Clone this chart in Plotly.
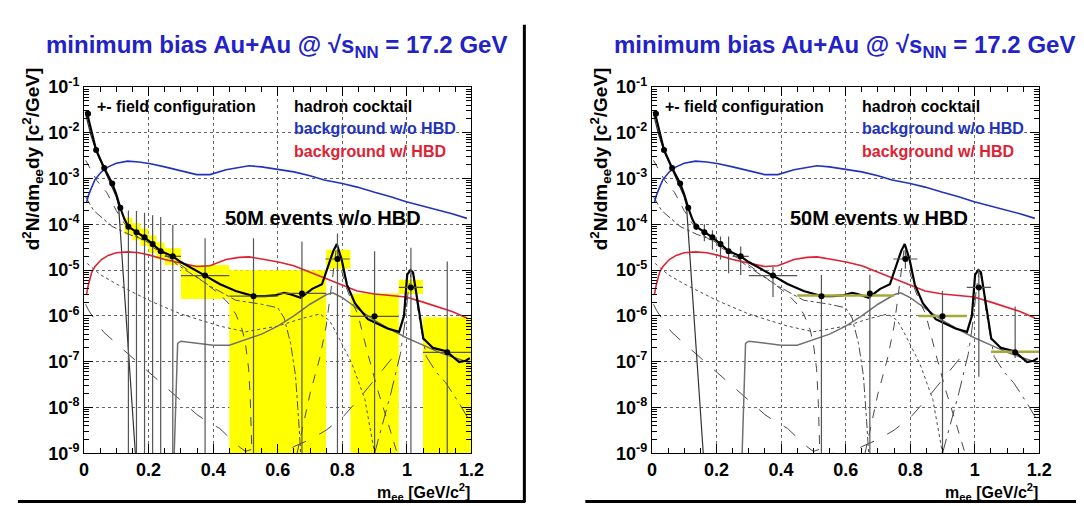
import numpy as np
import plotly.graph_objects as go

W, H = 1084, 506

# ---------------- data ----------------
# data points (bin centres) and their values
pt_x = [0.0125, 0.0375, 0.0625, 0.0875, 0.1125, 0.1375, 0.1625, 0.1875, 0.2125, 0.2375,
        0.275, 0.375, 0.525, 0.675, 0.785, 0.9, 1.0125, 1.125]
pt_y = [2.6e-2, 4.2e-3, 1.7e-3, 7.8e-4, 2.3e-4, 8.9e-5, 6.7e-5, 5.2e-5, 3.7e-5, 2.6e-5,
        2.0e-5, 7.6e-6, 2.7e-6, 3.1e-6, 1.75e-5, 9.8e-7, 4.2e-6, 1.6e-7]
bin_lo = [0.0, 0.025, 0.05, 0.075, 0.1, 0.125, 0.15, 0.175, 0.2, 0.225,
          0.25, 0.30, 0.45, 0.60, 0.75, 0.825, 0.975, 1.05]
bin_hi = [0.025, 0.05, 0.075, 0.1, 0.125, 0.15, 0.175, 0.2, 0.225, 0.25,
          0.30, 0.45, 0.60, 0.75, 0.825, 0.975, 1.05, 1.2]

# statistical error limits, 50M events w/o HBD (left)
left_hi = [2.6e-2, 4.2e-3, 1.7e-3, 7.8e-4, 2.3e-4, 2.0e-4, 1.95e-4, 1.78e-4, 1.58e-4, 1.45e-4,
           9.8e-5, 5.0e-5, 5.0e-5, 4.2e-5, 6.3e-5, 2.6e-5, 3.1e-5, 1.55e-5]
left_lo = [2.6e-2, 4.2e-3, 1.7e-3, 7.8e-4, 2.3e-4, 1e-10, 1e-10, 1e-10, 1e-10, 1e-10,
           1e-10, 1e-10, 1e-10, 1e-10, 1e-10, 1e-10, 1e-10, 1e-10]
left_xbar = [False] * 10 + [True] * 8

# statistical error limits, 50M events w HBD (right)
right_hi = [2.6e-2, 4.2e-3, 1.7e-3, 7.8e-4, 2.3e-4, 1.05e-4, 1.0e-4, 7.4e-5, 5.4e-5, 5.4e-5,
            3.3e-5, 1.17e-5, 7.8e-6, 7.9e-6, 2.8e-5, 3.5e-6, 1.07e-5, 1.6e-6]
right_lo = [2.6e-2, 4.2e-3, 1.7e-3, 7.8e-4, 2.3e-4, 7.5e-5, 4.3e-5, 2.8e-5, 1.7e-5, 8.5e-6,
            7.8e-6, 2.6e-6, 1e-10, 1e-10, 1.07e-5, 1e-10, 4.7e-8, 1.2e-7]
right_xbar = [False] * 10 + [True, True, False, False, True, False, True, False]

# systematic boxes (yellow), left panel: x0, x1, ylow, yhigh
sysL_x0 = [0.125, 0.15, 0.175, 0.2, 0.225, 0.25, 0.30, 0.45, 0.60, 0.75, 0.825, 0.975, 1.05]
sysL_x1 = [0.15, 0.175, 0.2, 0.225, 0.25, 0.30, 0.45, 0.60, 0.75, 0.825, 0.975, 1.05, 1.2]
sysL_lo = [6.0e-5, 4.5e-5, 3.4e-5, 2.4e-5, 1.7e-5, 1.3e-5, 2.35e-6, 1e-10, 1e-10, 1.07e-5, 1e-10, 3.0e-6, 1e-10]
sysL_hi = [1.4e-4, 1.05e-4, 8.0e-5, 5.7e-5, 4.0e-5, 3.0e-5, 1.3e-5, 1.0e-5, 1.0e-5, 2.8e-5, 3.1e-6, 6.2e-6, 9.3e-7]

# systematic bars (thin), right panel
sysR_x0 = [0.45, 0.60, 0.825, 1.05]
sysR_x1 = [0.60, 0.75, 0.975, 1.2]
sysR_y = [2.8e-6, 2.8e-6, 1.0e-6, 1.65e-7]

# hadron cocktail sum
tot_x = [0.005, 0.0125, 0.0375, 0.0625, 0.0875, 0.1, 0.1125, 0.125, 0.1375, 0.1625, 0.1875, 0.2125,
         0.2375, 0.275, 0.3, 0.375, 0.42, 0.47, 0.525, 0.56, 0.59, 0.62, 0.637, 0.671, 0.707, 0.737,
         0.762, 0.772, 0.783, 0.798, 0.814, 0.839, 0.879, 0.94, 0.976, 0.991, 1.001, 1.011, 1.019,
         1.026, 1.04, 1.051, 1.081, 1.122, 1.162, 1.182, 1.195]
tot_y = [2.9e-2, 2.2e-2, 4.2e-3, 1.7e-3, 7.8e-4, 4.5e-4, 2.3e-4, 1.3e-4, 8.9e-5, 6.7e-5, 5.2e-5, 3.7e-5,
         2.6e-5, 2.0e-5, 1.5e-5, 7.6e-6, 5.0e-6, 3.5e-6, 2.7e-6, 2.7e-6, 2.8e-6, 3.2e-6, 3.0e-6, 2.5e-6,
         3.9e-6, 4.9e-6, 1.5e-5, 2.6e-5, 3.7e-5, 1.7e-5, 4.9e-6, 1.9e-6, 8.5e-7, 5.3e-7, 4.5e-7, 1.0e-6,
         8.0e-6, 1.0e-5, 9.0e-6, 4.2e-6, 1.0e-6, 3.2e-7, 2.0e-7, 1.7e-7, 9.8e-8, 1.05e-7, 1.2e-7]

# cocktail components
pi0_x = [0.005, 0.02, 0.0375, 0.0625, 0.0875, 0.1, 0.107, 0.11, 0.12, 0.13, 0.14, 0.15, 0.16, 0.165]
pi0_y = [2.6e-2, 9.5e-3, 4.0e-3, 1.6e-3, 6.8e-4, 4.0e-4, 2.6e-4, 1.3e-4, 1.3e-5, 1.0e-6, 1.0e-7, 1.0e-8, 8e-10, 1e-10]

eta_x = [0.005, 0.02, 0.04, 0.07, 0.1, 0.125, 0.15, 0.2, 0.24, 0.3, 0.34, 0.38, 0.42, 0.45, 0.47,
         0.49, 0.5, 0.51, 0.515, 0.52, 0.525]
eta_y = [2.5e-3, 1.6e-3, 9e-4, 5e-4, 2.0e-4, 1.05e-4, 6.5e-5, 3.6e-5, 2.4e-5, 1.3e-5, 8e-6, 5e-6,
         3e-6, 1.8e-6, 1.1e-6, 5e-7, 2.5e-7, 7e-8, 1.5e-8, 1e-9, 1e-10]

omd_x = [0.005, 0.03, 0.087, 0.14, 0.188, 0.24, 0.29, 0.39, 0.47, 0.55, 0.6, 0.62, 0.64, 0.655, 0.665, 0.68]
omd_y = [4e-4, 2e-4, 9e-5, 6e-5, 4.5e-5, 2.5e-5, 1.3e-5, 4.5e-6, 2.2e-6, 1.8e-6, 1.5e-6, 9e-7, 2.5e-7,
         5e-8, 5e-9, 1e-10]

etap_x = [0.01, 0.05, 0.1, 0.2, 0.3, 0.42, 0.5, 0.6, 0.68, 0.73, 0.76, 0.78, 0.83, 0.87, 0.9, 0.91]
etap_y = [1.4e-5, 8e-6, 5e-6, 2.2e-6, 1.1e-6, 6e-7, 4.5e-7, 6e-7, 9e-7, 1.1e-6, 8e-7, 4.5e-7, 9e-8,
          1.5e-8, 1e-9, 1e-10]

rho_x = [0.275, 0.28, 0.29, 0.30, 0.35, 0.40, 0.45, 0.50, 0.55, 0.60, 0.65, 0.70, 0.75, 0.77, 0.80,
         0.85, 0.90, 0.95, 1.00, 1.05, 1.10, 1.15, 1.195]
rho_y = [1e-10, 1e-9, 2.5e-7, 2.8e-7, 2.5e-7, 2.3e-7, 2.3e-7, 3.0e-7, 4.0e-7, 6.0e-7, 1.0e-6, 1.8e-6,
         2.9e-6, 3.2e-6, 2.5e-6, 1.4e-6, 8.0e-7, 5.0e-7, 3.3e-7, 2.3e-7, 1.6e-7, 1.2e-7, 9.5e-8]

ldash_x = [0.005, 0.015, 0.03, 0.06, 0.1, 0.14, 0.2, 0.26, 0.3, 0.35, 0.38, 0.42, 0.45, 0.48, 0.5,
           0.53, 0.56, 0.6, 0.65, 0.7, 0.75, 0.8, 0.85, 0.9, 0.95, 0.98]
ldash_y = [1.8e-6, 1.3e-6, 9e-7, 4.5e-7, 2.5e-7, 1.4e-7, 6e-8, 2.5e-8, 1.4e-8, 7e-9, 5e-9, 3.5e-9,
           2.2e-9, 1.4e-9, 1.1e-9, 1.3e-9, 1.0e-9, 9e-10, 1.4e-9, 2e-9, 3.2e-9, 6e-9, 1.5e-8, 4e-8,
           1.1e-7, 2.2e-7]

omee_x = [0.66, 0.70, 0.73, 0.75, 0.76, 0.77, 0.782, 0.795, 0.808, 0.83, 0.848, 0.879, 0.909, 0.94, 0.97]
omee_y = [1e-9, 2e-8, 1.2e-7, 6e-7, 2e-6, 8e-6, 3.2e-5, 1.2e-5, 5e-6, 2e-6, 1.1e-6, 1.5e-7, 2.5e-8,
          5e-9, 1e-9]

phi_x = [0.90, 0.95, 0.98, 0.995, 1.005, 1.012, 1.019, 1.027, 1.035, 1.05, 1.06, 1.09, 1.12, 1.16, 1.195]
phi_y = [1e-9, 2e-8, 1.5e-7, 8e-7, 4e-6, 8e-6, 9e-6, 4e-6, 1.2e-6, 3e-7, 1.3e-7, 6e-8, 3.5e-8, 1.3e-8, 5e-9]

# combinatorial backgrounds
bg_x = [0.008, 0.014, 0.024, 0.034, 0.054, 0.075, 0.1, 0.135, 0.17, 0.206, 0.25, 0.288, 0.32, 0.349,
        0.39, 0.42, 0.44, 0.48, 0.511, 0.55, 0.602, 0.65, 0.7, 0.744, 0.8, 0.846, 0.9, 0.95, 0.998,
        1.05, 1.09, 1.14, 1.186]
bg_noHBD = [3.0e-4, 4.3e-4, 6.5e-4, 9.5e-4, 1.4e-3, 1.8e-3, 2.15e-3, 2.4e-3, 2.3e-3, 2.1e-3, 1.8e-3,
            1.55e-3, 1.35e-3, 1.22e-3, 1.22e-3, 1.4e-3, 1.55e-3, 1.75e-3, 1.9e-3, 1.8e-3, 1.6e-3,
            1.4e-3, 1.15e-3, 9.3e-4, 7.8e-4, 6.5e-4, 5.0e-4, 4.0e-4, 3.1e-4, 2.5e-4, 2.1e-4, 1.7e-4, 1.35e-4]
bg_HBD = [3.0e-6, 5.0e-6, 9.0e-6, 1.2e-5, 1.7e-5, 2.1e-5, 2.4e-5, 2.5e-5, 2.4e-5, 2.1e-5, 1.7e-5,
          1.5e-5, 1.3e-5, 1.2e-5, 1.25e-5, 1.5e-5, 1.7e-5, 1.9e-5, 1.95e-5, 1.75e-5, 1.5e-5, 1.25e-5,
          9.0e-6, 6.6e-6, 4.6e-6, 3.5e-6, 3.0e-6, 2.8e-6, 2.6e-6, 2.0e-6, 1.65e-6, 1.25e-6, 9.0e-7]

x_ticks = [0, 0.2, 0.4, 0.6, 0.8, 1.0, 1.2]
x_ticktext = ["0", "0.2", "0.4", "0.6", "0.8", "1", "1.2"]
y_exps = [-9, -8, -7, -6, -5, -4, -3, -2, -1]

panel_titles = ["50M events w/o HBD", "50M events w HBD"]
green_x = [(0.369, 1.109), (0.361, 1.046)]
green_y = (5.0e-5, 3.6e-4)

# ---------------- figure ----------------
FONT = "Liberation Sans"
GRAY = "#4a4a4a"
fig = go.Figure()

PX0, PY0 = 72.2, 70.0           # left panel top-left (px)
PW, PH = 394.0, 383.0
RX0 = 649.7


def dom_x(x0):
    return [x0 / W, (x0 + PW) / W]


def dom_y():
    return [1 - (PY0 + PH) / H, 1 - PY0 / H]


def add_line(xs, ys, ax, color=GRAY, width=1.0, dash="solid"):
    fig.add_trace(go.Scatter(x=xs, y=ys, mode="lines", xaxis=ax[0], yaxis=ax[1],
                             line=dict(color=color, width=width, dash=dash),
                             showlegend=False, hoverinfo="skip"))


panels = [("x", "y"), ("x2", "y2")]
for ip, ax in enumerate(panels):
    # systematic errors
    if ip == 0:
        bx, by = [], []
        for a, b, lo, hi in zip(sysL_x0, sysL_x1, sysL_lo, sysL_hi):
            bx += [a, b, b, a, a, None]
            by += [lo, lo, hi, hi, lo, None]
        fig.add_trace(go.Scatter(x=bx, y=by, mode="lines", fill="toself", fillcolor="#ffff00",
                                 line=dict(width=0, color="#ffff00"), xaxis=ax[0], yaxis=ax[1],
                                 showlegend=False, hoverinfo="skip"))
    # cocktail components
    add_line(ldash_x, ldash_y, ax, width=1.0, dash="longdash")
    add_line(etap_x, etap_y, ax, width=1.0, dash="dot")
    add_line(omd_x, omd_y, ax, width=1.0, dash="dashdot")
    add_line(eta_x, eta_y, ax, width=1.0, dash="dash")
    add_line(omee_x, omee_y, ax, width=1.0, dash="dash")
    add_line(phi_x, phi_y, ax, width=1.0, dash="longdashdot")
    add_line(rho_x, rho_y, ax, color="#707070", width=1.5)
    add_line(pi0_x, pi0_y, ax, color="#333333", width=1.2)
    # backgrounds
    add_line(bg_x, bg_noHBD, ax, color="#2233bb", width=1.6)
    add_line(bg_x, bg_HBD, ax, color="#dd2233", width=1.6)
    # cocktail sum
    add_line(tot_x, tot_y, ax, color="black", width=2.2)

    hi = left_hi if ip == 0 else right_hi
    lo = left_lo if ip == 0 else right_lo
    xb = left_xbar if ip == 0 else right_xbar
    if ip == 1:
        sx, sy = [], []
        for a, b, v in zip(sysR_x0, sysR_x1, sysR_y):
            sx += [a, b, None]
            sy += [v, v, None]
        add_line(sx, sy, ax, color="#a8a838", width=2.5)
    ex = [(b - a) / 2 if f else 0 for a, b, f in zip(bin_lo, bin_hi, xb)]
    fig.add_trace(go.Scatter(
        x=pt_x, y=pt_y, mode="markers", xaxis=ax[0], yaxis=ax[1],
        marker=dict(color="black", size=6),
        error_y=dict(type="data", symmetric=False,
                     array=[h - v for h, v in zip(hi, pt_y)],
                     arrayminus=[v - l for l, v in zip(lo, pt_y)],
                     color="#555555", thickness=1.2, width=0),
        error_x=dict(type="data", array=ex, color="#555555", thickness=1.2, width=0),
        showlegend=False, hoverinfo="skip"))

minor_y = [k * 10.0 ** e for e in range(-9, -1) for k in range(2, 10)]
minor_x = [i * 0.05 for i in range(25) if i % 4 != 0]

axis_font = dict(family=FONT, size=18, color="black", weight="bold")
for ip, (xa, ya) in enumerate([("xaxis", "yaxis"), ("xaxis2", "yaxis2")]):
    x0 = PX0 if ip == 0 else RX0
    yname = "y" if ip == 0 else "y2"
    xname = "x" if ip == 0 else "x2"
    fig.layout[xa] = dict(
        domain=dom_x(x0), range=[0, 1.2], anchor=yname,
        tickmode="array", tickvals=x_ticks, ticktext=x_ticktext,
        ticks="inside", ticklen=9, tickcolor="black", tickwidth=1,
        showline=True, linecolor="black", linewidth=1, mirror="allticks",
        showgrid=True, gridcolor="#666666", griddash="dot", gridwidth=1, zeroline=False,
        tickfont=axis_font,
        minor=dict(tickmode="array", tickvals=minor_x, ticks="inside", ticklen=5,
                   tickcolor="black", showgrid=False))
    fig.layout[ya] = dict(
        domain=dom_y(), type="log", range=[-9, -1], anchor=xname,
        tickmode="array", tickvals=[10.0 ** e for e in y_exps],
        ticktext=["10<sup>%d</sup>" % e for e in y_exps],
        ticks="inside", ticklen=9, tickcolor="black", tickwidth=1,
        showline=True, linecolor="black", linewidth=1, mirror="allticks",
        showgrid=True, gridcolor="#666666", griddash="dot", gridwidth=1, zeroline=False,
        tickfont=dict(family=FONT, size=18, color="black", weight="bold"),
        minor=dict(tickmode="array", tickvals=minor_y, ticks="inside", ticklen=5,
                   tickcolor="black", showgrid=False))

shapes = []
annotations = []
for ip in range(2):
    xn = "x" if ip == 0 else "x2"
    yn = "y" if ip == 0 else "y2"
    gx = green_x[ip]
    shapes.append(dict(type="rect", xref=xn, yref=yn, x0=gx[0], x1=gx[1],
                       y0=np.log10(green_y[0]), y1=np.log10(green_y[1]),
                       fillcolor="#c9edcc", line=dict(width=0), layer="below"))
    annotations.append(dict(xref=xn, yref=yn, x=(gx[0] + gx[1]) / 2,
                            y=(np.log10(green_y[0]) + np.log10(green_y[1])) / 2,
                            text=panel_titles[ip], showarrow=False,
                            font=dict(family=FONT, size=20, color="black", weight="bold")))
    leg = [("+- field configuration", 0.035, -1.42, "black"),
           ("hadron cocktail", 0.645, -1.42, "black"),
           ("background w/o HBD", 0.645, -1.90, "#2233bb"),
           ("background w/ HBD", 0.645, -2.40, "#dd2233")]
    for t, lx, ly, c in leg:
        annotations.append(dict(xref=xn, yref=yn, x=lx, y=ly, text=t, showarrow=False,
                                xanchor="left", yanchor="middle",
                                font=dict(family=FONT, size=16, color=c, weight="bold")))
    off = 0 if ip == 0 else (RX0 - PX0)
    # title
    annotations.append(dict(xref="paper", yref="paper", x=(268 + off) / W, y=1 - 28 / H,
                            text="minimum bias Au+Au @ \u221as<sub>NN</sub> = 17.2 GeV",
                            showarrow=False, xanchor="center", yanchor="middle",
                            font=dict(family=FONT, size=24, color="#2222c8", weight="bold")))
    # axis titles
    annotations.append(dict(xref="paper", yref="paper", x=(20 + off) / W, y=1 - 145 / H,
                            text="d<sup>2</sup>N/dm<sub>ee</sub>dy [c<sup>2</sup>/GeV]",
                            textangle=-90, showarrow=False, xanchor="center", yanchor="middle",
                            font=dict(family=FONT, size=19, color="black", weight="bold")))
    annotations.append(dict(xref="paper", yref="paper", x=(467 + off) / W, y=1 - 493 / H,
                            text="m<sub>ee</sub> [GeV/c<sup>2</sup>]",
                            showarrow=False, xanchor="right", yanchor="middle",
                            font=dict(family=FONT, size=16, color="black", weight="bold")))

# frame lines of the two original pictures
shapes.append(dict(type="line", xref="paper", yref="paper", x0=520 / W, x1=520 / W,
                   y0=1 - 504 / H, y1=1 - 5 / H, line=dict(color="black", width=3)))
shapes.append(dict(type="line", xref="paper", yref="paper", x0=5 / W, x1=521 / W,
                   y0=1 - 503.5 / H, y1=1 - 503.5 / H, line=dict(color="black", width=3)))
shapes.append(dict(type="line", xref="paper", yref="paper", x0=582 / W, x1=1,
                   y0=1 - 503.5 / H, y1=1 - 503.5 / H, line=dict(color="black", width=3)))

fig.update_layout(width=W, height=H, margin=dict(l=0, r=0, t=0, b=0),
                  paper_bgcolor="white", plot_bgcolor="white",
                  shapes=shapes, annotations=annotations, showlegend=False)

fig.write_html("out.html")
